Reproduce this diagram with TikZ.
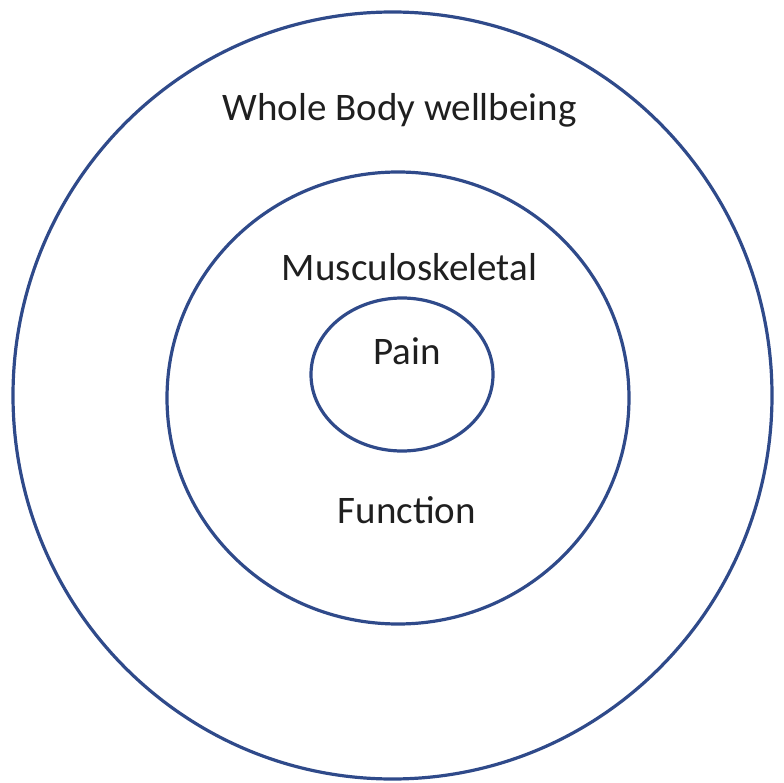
\documentclass[tikz,border=0pt]{standalone}
\usepackage{fontspec}
\setmainfont{Carlito}
\usetikzlibrary{shapes.geometric}
\definecolor{ringblue}{HTML}{2F4A8A}
\begin{document}
\begin{tikzpicture}[x=1pt,y=-1pt,
  ring/.style={draw=ringblue,line width=3.2pt},
  lbl/.style={font=\fontsize{39}{44}\selectfont,text=black!88,inner sep=0pt,anchor=base}]
\useasboundingbox (0,0) rectangle (784,783);
\node[ring,ellipse,minimum width=759pt,minimum height=767pt,inner sep=0pt] (outer) at (392.5,395.5) {};
\node[ring,ellipse,minimum width=462pt,minimum height=452pt,inner sep=0pt] (middle) at (398,398) {};
\node[ring,ellipse,minimum width=182pt,minimum height=153pt,inner sep=0pt] (inner) at (402,374.5) {};
\node[lbl] (whole) at (399.5,121) {Whole Body wellbeing};
\node[lbl] (musc) at (409.5,281) {Musculoskeletal};
\node[lbl] (pain) at (407,364) {Pain};
\node[lbl] (func) at (407,523) {Function};
\end{tikzpicture}
\end{document}
